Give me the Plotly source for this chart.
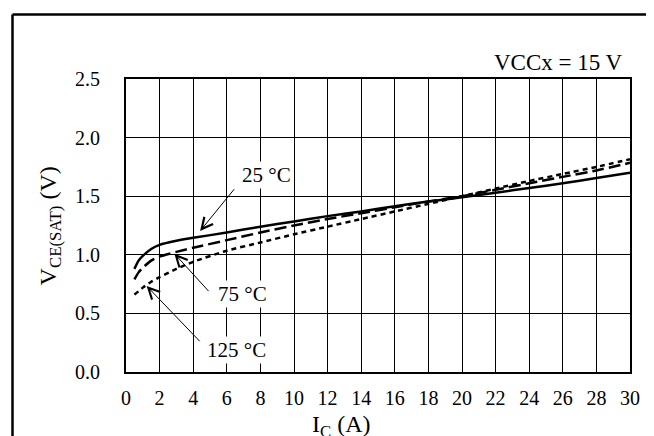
import plotly.graph_objects as go

# 読み取り値 (I_C [A] に対する V_CE(SAT) [V])
ic = [0.5, 0.75, 1, 1.5, 2, 3, 4, 6, 8, 10, 12, 14, 16, 18, 20, 22, 24, 26, 28, 30]
vce_25 = [0.88, 0.95, 0.99, 1.05, 1.085, 1.12, 1.145, 1.19, 1.24, 1.285, 1.33, 1.37,
          1.415, 1.455, 1.49, 1.53, 1.57, 1.61, 1.655, 1.70]
vce_75 = [0.79, 0.85, 0.89, 0.95, 0.985, 1.025, 1.06, 1.125, 1.19, 1.25, 1.305, 1.355,
          1.405, 1.455, 1.50, 1.555, 1.61, 1.665, 1.72, 1.785]
vce_125 = [0.66, 0.69, 0.72, 0.77, 0.81, 0.88, 0.94, 1.035, 1.105, 1.175, 1.24, 1.305,
           1.37, 1.435, 1.50, 1.565, 1.63, 1.69, 1.75, 1.815]

x_ticks = list(range(0, 31, 2))
y_ticks = [0.0, 0.5, 1.0, 1.5, 2.0, 2.5]

# ラベル: (テキスト, ラベル位置 x, y, 矢印の根元 x, y, 矢印の先 x, y)
labels = [
    ("25 °C", 8.39, 1.683, 6.51, 1.572, 4.41, 1.203),
    ("75 °C", 6.93, 0.664, 5.0, 0.677, 2.88, 1.01),
    ("125 °C", 6.59, 0.186, 4.47, 0.25, 1.23, 0.734),
]

FONT = "Liberation Serif, Times New Roman, serif"


def create_vce_chart() -> go.Figure:
    fig = go.Figure()

    for y, dash in [(vce_25, "solid"), (vce_75, "12px,5px"), (vce_125, "5px,4px")]:
        fig.add_trace(
            go.Scatter(
                x=ic,
                y=y,
                mode="lines",
                line=dict(color="black", width=2.5, dash=dash, shape="spline", smoothing=0.6),
                showlegend=False,
            )
        )

    for text, lx, ly, tx, ty, hx, hy in labels:
        # 矢印
        fig.add_annotation(
            x=hx, y=hy, ax=tx, ay=ty, xref="x", yref="y", axref="x", ayref="y",
            text="", showarrow=True, arrowhead=5, arrowsize=2.2, arrowwidth=1,
            arrowcolor="black",
        )
        # ラベル (白背景で格子線を隠す)
        fig.add_annotation(
            x=lx, y=ly, xref="x", yref="y", text=text, showarrow=False,
            bgcolor="white", borderpad=1, font=dict(size=21, color="black", family=FONT),
        )

    fig.add_annotation(
        x=0.99, y=1.055, xref="paper", yref="paper", xanchor="right", yanchor="middle",
        text="VCCx = 15 V", showarrow=False, font=dict(size=23, color="black", family=FONT),
    )
    fig.add_annotation(
        x=0.4266, y=-0.185, xref="paper", yref="paper", xanchor="center", yanchor="middle",
        text="I<sub>C</sub> (A)", showarrow=False, font=dict(size=24, color="black", family=FONT),
    )
    fig.add_annotation(
        x=-0.151, y=0.5, xref="paper", yref="paper", xanchor="center", yanchor="middle",
        text="V<sub>CE(SAT)</sub> (V)", textangle=-90, showarrow=False,
        font=dict(size=24, color="black", family=FONT),
    )

    # 外枠 (左と上のみ見える)
    fig.add_shape(type="line", xref="paper", yref="paper", x0=-0.2252, x1=-0.2252,
                  y0=1.2201, y1=-0.4, line=dict(color="black", width=2.5))
    fig.add_shape(type="line", xref="paper", yref="paper", x0=-0.2252, x1=1.2,
                  y0=1.2201, y1=1.2201, line=dict(color="black", width=2.5))

    fig.update_xaxes(
        range=[0, 30],
        tickvals=x_ticks,
        showgrid=True, gridcolor="black", gridwidth=1.3,
        showline=True, linecolor="black", linewidth=2, mirror=True,
        zeroline=False, ticks="", ticklabelstandoff=7,
        tickfont=dict(size=20, color="black", family=FONT),
    )
    fig.update_yaxes(
        range=[0, 2.5],
        tickvals=y_ticks,
        tickformat=".1f",
        showgrid=True, gridcolor="black", gridwidth=1.3,
        showline=True, linecolor="black", linewidth=2, mirror=True,
        zeroline=False, ticks="", ticklabelstandoff=20,
        tickfont=dict(size=20, color="black", family=FONT),
    )
    fig.update_layout(
        width=654,
        height=436,
        margin=dict(l=118, r=32, t=71, b=72),
        plot_bgcolor="white",
        paper_bgcolor="white",
        font=dict(family=FONT, color="black"),
    )
    return fig


fig = create_vce_chart()
fig.write_html("out.html")
